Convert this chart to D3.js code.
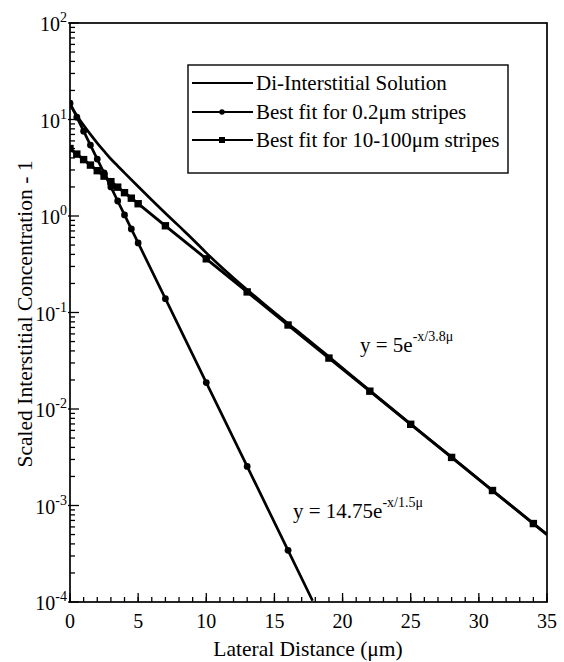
<!DOCTYPE html>
<html><head><meta charset="utf-8">
<script src="https://cdn.jsdelivr.net/npm/d3@7"></script>
<style>
body{margin:0;background:#fff}
svg{display:block}
text{font-family:"Liberation Serif","Times New Roman",serif;fill:#000}
</style>
</head><body>
<svg id="c" width="564" height="662"></svg>
<script>
// ---- data ----
const xMajorTicks = [0, 5, 10, 15, 20, 25, 30, 35];
const yDecades = [2, 1, 0, -1, -2, -3, -4];

// Di-Interstitial Solution (smooth curve, no markers)
const diX = [0, 0.5, 1, 1.5, 2, 2.5, 3, 3.5, 4, 5, 6, 7, 8, 9, 10, 11, 12, 13, 14, 15, 16, 17, 19, 22, 25, 28, 31, 35];
const diY = [14.2, 11.0, 8.7, 7.0, 5.7, 4.7, 3.9, 3.3, 2.8, 2.02, 1.465, 1.07, 0.785, 0.575, 0.415, 0.305, 0.228, 0.172, 0.131, 0.100, 0.0765, 0.0592, 0.0348, 0.0155, 0.00698, 0.00317, 0.00143, 0.00050];

// Best fit for 0.2um stripes: y = 14.75 e^{-x/1.5}
const fit02X = [0, 0.5, 1, 1.5, 2, 2.5, 3, 3.5, 4, 4.5, 5, 7, 10, 13, 16];
const fit02Y = [14.75, 10.57, 7.57, 5.43, 3.89, 2.79, 2.00, 1.43, 1.025, 0.734, 0.526, 0.139, 0.0188, 0.00254, 0.000343];
const fit02EndX = 17.8, fit02EndY = 0.000103;

// Best fit for 10-100um stripes: y = 5 e^{-x/3.8}
const fit10X = [0, 0.5, 1, 1.5, 2, 2.5, 3, 3.5, 4, 4.5, 5, 7, 10, 13, 16, 19, 22, 25, 28, 31, 34];
const fit10Y = [5.0, 4.38, 3.84, 3.37, 2.95, 2.59, 2.27, 1.99, 1.745, 1.53, 1.34, 0.792, 0.360, 0.1634, 0.0742, 0.0337, 0.0153, 0.00694, 0.00315, 0.00143, 0.00065];
const fit10EndX = 35, fit10EndY = 0.00050;

const legendLabels = ["Di-Interstitial Solution", "Best fit for 0.2\u03bcm stripes", "Best fit for 10-100\u03bcm stripes"];

// ---- layout ----
const L = 70, R = 547, T = 23, B = 602;
const svg = d3.select("#c");
const x = d3.scaleLinear().domain([0, 35]).range([L, R]);
const y = d3.scaleLog().domain([1e-4, 1e2]).range([B, T]);

svg.append("clipPath").attr("id", "pc").append("rect")
  .attr("x", L).attr("y", T).attr("width", R - L).attr("height", B - T);

// minor y ticks
const yMinor = [];
for (let e = -4; e < 2; e++) for (let m = 2; m <= 9; m++) yMinor.push(m * Math.pow(10, e));
const gy = svg.append("g").attr("stroke", "#000").attr("stroke-width", 1.3);
gy.selectAll("line.mn").data(yMinor).join("line")
  .attr("x1", L).attr("x2", L + 5).attr("y1", d => y(d)).attr("y2", d => y(d));
gy.selectAll("line.mj").data(yDecades).join("line")
  .attr("x1", L - 2).attr("x2", L + 9).attr("y1", d => y(Math.pow(10, d))).attr("y2", d => y(Math.pow(10, d)));

// x ticks
const xMinor = d3.range(0, 36, 1);
const gx = svg.append("g").attr("stroke", "#000").attr("stroke-width", 1.3);
gx.selectAll("line.mn").data(xMinor).join("line")
  .attr("x1", d => x(d)).attr("x2", d => x(d)).attr("y1", B).attr("y2", B - 5);
gx.selectAll("line.mj").data(xMajorTicks).join("line")
  .attr("x1", d => x(d)).attr("x2", d => x(d)).attr("y1", B).attr("y2", B - 9);

// frame
svg.append("rect").attr("x", L).attr("y", T).attr("width", R - L).attr("height", B - T)
  .attr("fill", "none").attr("stroke", "#000").attr("stroke-width", 1.7);

// y tick labels
const yl = svg.append("g");
yDecades.forEach(d => {
  const t = yl.append("text").attr("x", 67).attr("y", y(Math.pow(10, d)) + 8).attr("text-anchor", "end").attr("font-size", 20);
  t.append("tspan").text("10");
  t.append("tspan").attr("font-size", 14).attr("dy", -9).text(String(d));
});

// x tick labels
svg.append("g").selectAll("text").data(xMajorTicks).join("text")
  .attr("x", d => x(d)).attr("y", 628).attr("text-anchor", "middle").attr("font-size", 20).text(d => d);

// axis titles
svg.append("text").attr("x", 308).attr("y", 656).attr("text-anchor", "middle").attr("font-size", 21.5)
  .text("Lateral Distance (\u03bcm)");
svg.append("text").attr("transform", "translate(32,314) rotate(-90)").attr("text-anchor", "middle").attr("font-size", 21.5)
  .text("Scaled Interstitial Concentration - 1");

// curves
const line = d3.line().x(d => x(d[0])).y(d => y(d[1]));
const plot = svg.append("g").attr("clip-path", "url(#pc)");
const diPts = diX.map((v, i) => [v, diY[i]]);
const f02Pts = fit02X.map((v, i) => [v, fit02Y[i]]);
const f10Pts = fit10X.map((v, i) => [v, fit10Y[i]]);
plot.append("path").attr("d", line.curve(d3.curveMonotoneX)(diPts)).attr("fill", "none").attr("stroke", "#000").attr("stroke-width", 2.7);
line.curve(d3.curveLinear);
plot.append("path").attr("d", line(f02Pts.concat([[fit02EndX, fit02EndY]]))).attr("fill", "none").attr("stroke", "#000").attr("stroke-width", 2.7);
plot.append("path").attr("d", line(f10Pts.concat([[fit10EndX, fit10EndY]]))).attr("fill", "none").attr("stroke", "#000").attr("stroke-width", 2.9);
plot.selectAll("circle.m").data(f02Pts).join("circle")
  .attr("cx", d => x(d[0])).attr("cy", d => y(d[1])).attr("r", 3.4).attr("fill", "#000");
plot.selectAll("rect.m").data(f10Pts).join("rect")
  .attr("x", d => x(d[0]) - 3.7).attr("y", d => y(d[1]) - 3.7).attr("width", 7.4).attr("height", 7.4).attr("fill", "#000");

// equation labels
const e1 = svg.append("text").attr("x", 360).attr("y", 352).attr("font-size", 21);
e1.append("tspan").text("y = 5e");
e1.append("tspan").attr("font-size", 14).attr("dy", -11).text("-x/3.8\u03bc");
const e2 = svg.append("text").attr("x", 293).attr("y", 518).attr("font-size", 21);
e2.append("tspan").text("y = 14.75e");
e2.append("tspan").attr("font-size", 14).attr("dy", -11).text("-x/1.5\u03bc");

// legend
const lg = svg.append("g");
lg.append("rect").attr("x", 188).attr("y", 65).attr("width", 320).attr("height", 108)
  .attr("fill", "#fff").attr("stroke", "#000").attr("stroke-width", 1.4);
const rowsY = [83, 112, 140];
legendLabels.forEach((t, i) => {
  lg.append("line").attr("x1", 192).attr("x2", 253).attr("y1", rowsY[i]).attr("y2", rowsY[i]).attr("stroke", "#000").attr("stroke-width", 2.2);
  lg.append("text").attr("x", 256).attr("y", rowsY[i] + 7).attr("font-size", 21).text(t);
});
lg.append("circle").attr("cx", 222).attr("cy", rowsY[1]).attr("r", 2.7).attr("fill", "#000");
lg.append("rect").attr("x", 219).attr("y", rowsY[2] - 3).attr("width", 6).attr("height", 6).attr("fill", "#000");
</script>
</body></html>
